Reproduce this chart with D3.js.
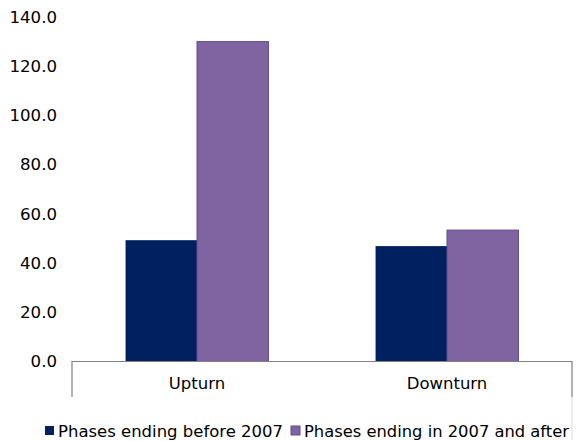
<!DOCTYPE html>
<html><head><meta charset="utf-8">
<script src="https://cdn.jsdelivr.net/npm/d3@7"></script>
<style>body{margin:0;background:#fff}svg{display:block}text{font-family:"DejaVu Sans",Verdana,sans-serif;fill:#000}</style>
</head><body>
<svg id="c" width="587" height="441"></svg>
<script>
const categories = ["Upturn", "Downturn"];
const seriesNames = ["Phases ending before 2007", "Phases ending in 2007 and after"];
const before2007 = [49.3, 46.9];
const after2007 = [130.0, 53.4];
const yTicks = [0, 20, 40, 60, 80, 100, 120, 140];

(function () {
const svg = d3.select("#c");
const pLeft = 72, pRight = 572, pTop = 17, pBottom = 361.5;
const y = d3.scaleLinear().domain([0, 140]).range([pBottom, pTop]);
const x0 = d3.scaleBand().domain(categories).range([pLeft, pRight]).paddingInner(0).paddingOuter(0);
const x1 = d3.scaleBand().domain([0, 1]).range([0, x0.bandwidth()]).paddingInner(0).paddingOuter(0.75);
const colors = ["#002060", "#8064A2"];
const strokes = ["#002060", "#5a4f8e"];

// y axis labels
const yAxis = d3.axisLeft(y).tickValues(yTicks).tickFormat(d3.format(".1f")).tickSize(0).tickPadding(15);
const ya = svg.append("g").attr("transform", `translate(${pLeft},0)`).call(yAxis);
ya.select(".domain").remove();
ya.selectAll("text").attr("font-size", 16.6).attr("font-family", "DejaVu Sans").attr("fill", "#000");

// bars
const data = categories.map((c, i) => ({c, v: [before2007[i], after2007[i]]}));
const g = svg.append("g");
data.forEach(d => {
  d.v.forEach((v, s) => {
    g.append("rect")
      .attr("x", x0(d.c) + x1(s))
      .attr("y", y(v))
      .attr("width", x1.bandwidth())
      .attr("height", y(0) - y(v))
      .attr("fill", colors[s])
      .attr("stroke", strokes[s])
      .attr("stroke-width", s === 1 ? 1 : 0);
  });
});

// category axis box
svg.append("path")
  .attr("d", `M${pLeft},397V${pBottom}H${pRight}V397`)
  .attr("fill", "none").attr("stroke", "#808080").attr("stroke-width", 1.2);
svg.append("line").attr("x1", pRight).attr("x2", pRight).attr("y1", 397).attr("y2", 440)
  .attr("stroke", "#d9d9d9").attr("stroke-width", 1);

svg.append("g").selectAll("text").data(categories).join("text")
  .attr("x", d => x0(d) + x0.bandwidth() / 2)
  .attr("y", 389)
  .attr("text-anchor", "middle")
  .attr("font-size", 16.5)
  .text(d => d);

// legend
const leg = svg.append("g");
const legX = [45, 291];
const legW = [225, 265];
seriesNames.forEach((n, i) => {
  leg.append("rect").attr("x", legX[i]).attr("y", 426).attr("width", 9).attr("height", 9)
    .attr("fill", colors[i]).attr("stroke", strokes[i]).attr("stroke-width", i === 1 ? 1 : 0);
  leg.append("text").attr("x", legX[i] + 13).attr("y", 436.5).attr("font-size", 16.3)
    .attr("textLength", legW[i]).attr("lengthAdjust", "spacingAndGlyphs").text(n);
});
})();
</script>
</body></html>
